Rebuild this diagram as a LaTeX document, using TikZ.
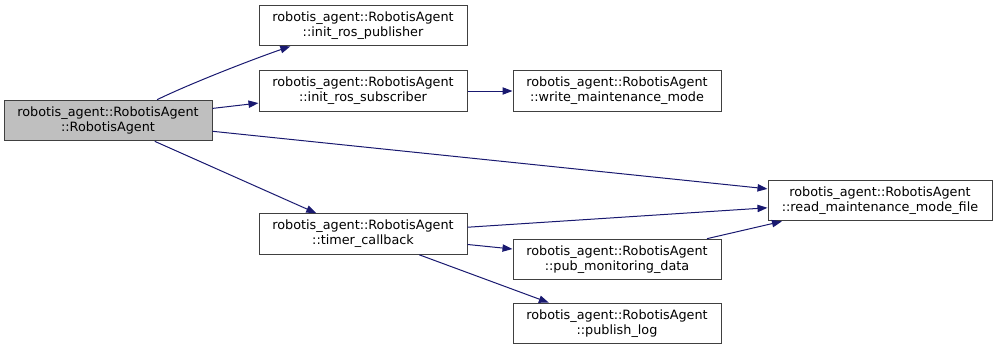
\documentclass[tikz,border=0pt]{standalone}
\usepackage{fontspec}
\setmainfont{DejaVu Sans}
\usetikzlibrary{arrows.meta}

\tikzset{
  fn/.style={draw={rgb,255:red,64;green,64;blue,64}, line width=0.75pt, fill=white,
    minimum width=156pt, minimum height=30.5pt, inner sep=1pt, align=center,
    font=\fontsize{9.6}{11.3}\selectfont},
  fnroot/.style={fn, fill={rgb,255:red,191;green,191;blue,191}},
  call/.style={draw={rgb,255:red,25;green,25;blue,112}, line width=0.75pt,
    -{Triangle[length=7.5pt,width=5.5pt]}}
}

\begin{document}
\begin{tikzpicture}[x=0.75pt,y=0.75pt,yscale=-1,xscale=1]
\useasboundingbox (0,0) rectangle (997,351);

% caller
\node [fnroot] (root) at (108,120.5) {robotis\_agent::RobotisAgent\\::RobotisAgent};

% first column
\node [fn] (initpub) at (363,25.5) {robotis\_agent::RobotisAgent\\::init\_ros\_publisher};
\node [fn] (initsub) at (363,91) {robotis\_agent::RobotisAgent\\::init\_ros\_subscriber};
\node [fn] (timercb) at (363,234) {robotis\_agent::RobotisAgent\\::timer\_callback};

% second column
\node [fn] (writemode) at (617,91) {robotis\_agent::RobotisAgent\\::write\_maintenance\_mode};
\node [fn] (pubmon) at (617,259.5) {robotis\_agent::RobotisAgent\\::pub\_monitoring\_data};
\node [fn] (publog) at (617,323.5) {robotis\_agent::RobotisAgent\\::publish\_log};

% third column
\node [fn, minimum width=168pt] (readfile) at (880,200.5) {robotis\_agent::RobotisAgent\\::read\_maintenance\_mode\_file};

% calls
\draw [call] (root.23) .. controls +(35,-17) and +(-35,12) .. (initpub.196);
\draw [call] (root) -- (initsub);
\draw [call] (root) -- (readfile);
\draw [call] (root) -- (timercb);
\draw [call] (initsub) -- (writemode);
\draw [call] (timercb) -- (readfile);
\draw [call] (timercb) -- (pubmon);
\draw [call] (timercb) -- (publog.163);
\draw [call] (pubmon) -- (readfile.192);

\end{tikzpicture}
\end{document}
